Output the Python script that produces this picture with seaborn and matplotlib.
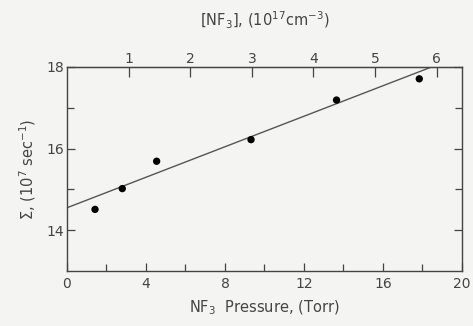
import matplotlib
matplotlib.use("Agg")
import matplotlib.pyplot as plt
import numpy as np
import pandas as pd
import seaborn as sns

# measured points
pressure = [1.42, 2.80, 4.54, 9.32, 13.65, 17.84]
sigma = [14.51, 15.02, 15.69, 16.22, 17.19, 17.71]

# straight-line fit drawn on the figure
fit_x = [0.0, 18.46]
fit_y = [14.55, 18.0]

torr_per_unit = 3.12  # 1e17 cm^-3 per 3.12 Torr
conc_ticks = [1, 2, 3, 4, 5, 6]

sns.set_style('ticks')
plt.rcParams['font.family'] = ['DejaVu Sans']
ink = '#444444'
plt.rcParams['text.color'] = ink
plt.rcParams['axes.labelcolor'] = ink
plt.rcParams['xtick.color'] = ink
plt.rcParams['ytick.color'] = ink

df = pd.DataFrame({'p': pressure, 's': sigma})
fit = pd.DataFrame({'p': fit_x, 's': fit_y})

fig = plt.figure(figsize=(4.73, 3.26), dpi=100)
fig.patch.set_facecolor('#f4f4f2')
ax = fig.add_axes([0.1416, 0.1687, 0.835, 0.6258])
ax.set_facecolor('#f4f4f2')

sns.lineplot(data=fit, x='p', y='s', ax=ax, color='#555555', lw=1.0)
sns.scatterplot(data=df, x='p', y='s', ax=ax, color='black', s=28, edgecolor='none', zorder=3)

ax.set_xlim(0, 20)
ax.set_ylim(13, 18)
ax.set_xticks([0, 4, 8, 12, 16, 20])
ax.set_xticks(np.arange(2, 20, 4), minor=True)
ax.set_yticks([14, 16, 18])
ax.set_yticks([15, 17], minor=True)
ax.tick_params(direction='in', labelsize=10, length=6, width=0.9, pad=4)
ax.tick_params(which='minor', direction='in', length=5, width=0.9)
ax.tick_params(axis='y', right=True, which='both', pad=2)
for sp in ax.spines.values():
    sp.set_color('#444444')
    sp.set_linewidth(1.0)

ax.set_xlabel('NF$_3$  Pressure, (Torr)', fontsize=10.5, labelpad=6)
ax.set_ylabel('Σ, (10$^7$ sec$^{-1}$)', fontsize=10.5, labelpad=6)

top = ax.secondary_xaxis('top', functions=(lambda p: p / torr_per_unit, lambda c: c * torr_per_unit))
top.set_xticks(conc_ticks)
top.tick_params(direction='in', labelsize=10, length=7, width=0.9, pad=1)
top.set_xlabel('[NF$_3$], (10$^{17}$cm$^{-3}$)', fontsize=10.5, labelpad=18)

fig.savefig('out.png', dpi=100, facecolor=fig.get_facecolor())
